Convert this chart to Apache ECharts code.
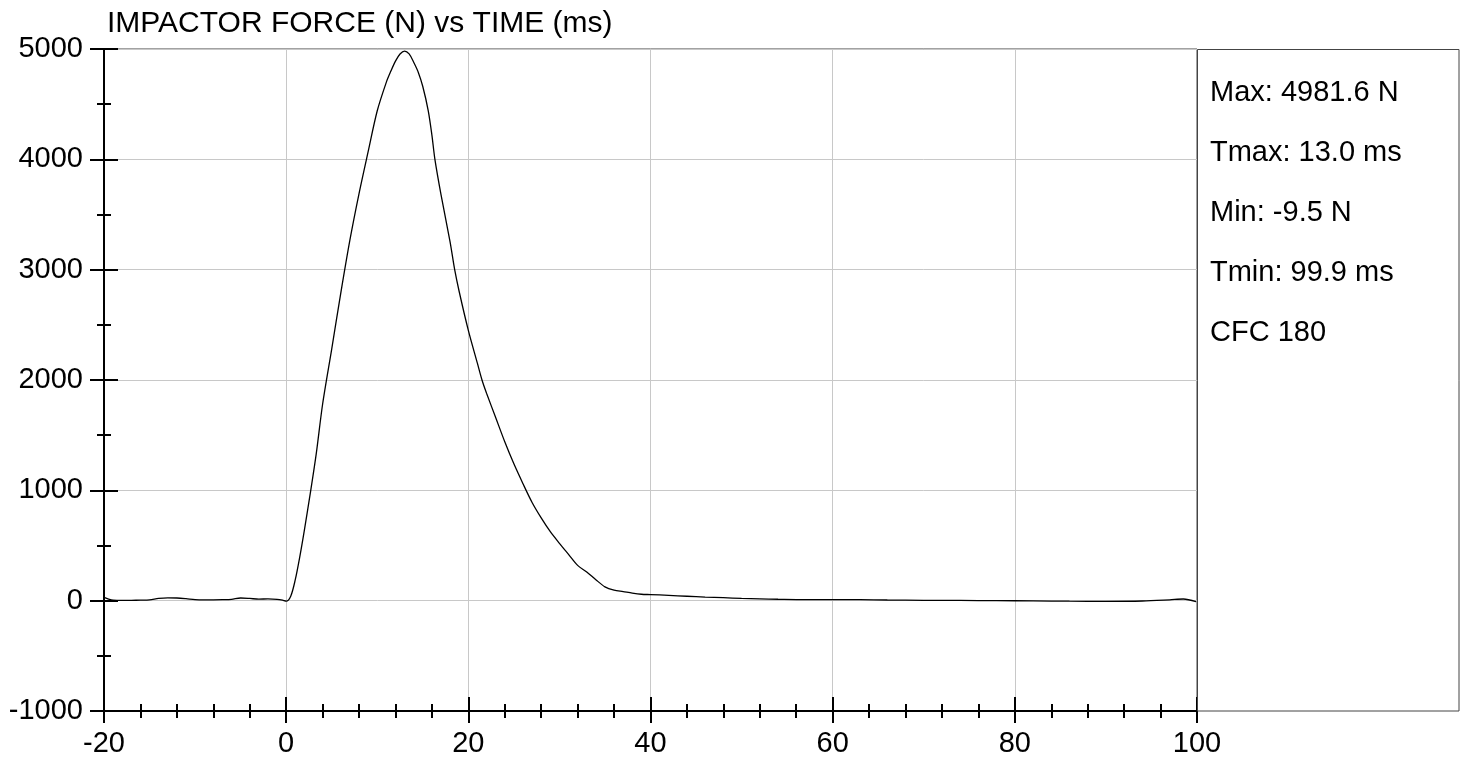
<!DOCTYPE html>
<html>
<head>
<meta charset="utf-8">
<script src="https://cdn.jsdelivr.net/npm/echarts@6/dist/echarts.min.js"></script>
<style>
html,body{margin:0;padding:0;background:#fff;}
#chart{width:1465px;height:761px;}
</style>
</head>
<body>
<div id="chart"></div>
<script>
var titleText = 'IMPACTOR FORCE (N) vs TIME (ms)';
var statsLines = ['Max: 4981.6 N', 'Tmax: 13.0 ms', 'Min: -9.5 N', 'Tmin: 99.9 ms', 'CFC 180'];

var timeMs = [-20,-19.5,-19,-18,-17,-16,-15,-14,-13,-12,-11,-10,-9,-8,-7,-6,-5,-4,-3,-2,-1,-0.4,0,
  0.5,1,1.5,2,2.7,3.3,4,5,6,7,8,9,10,11,11.5,12,12.5,13,13.5,14,14.5,15,15.6,16,16.33,17,18,18.5,19,20,
  21,21.5,22,23,24,25,26,27,28,29,30,31,32,33,34,35,36,37,38,39,40,42,44,46,48,50,52,54,57,60,63,66,70,
  74,78,82,86,90,94,97,98.5,99.9];
var forceN = [30,15,5,2,3,5,8,20,25,24,18,10,8,8,9,12,24,20,14,16,12,4,-5,
  40,190,400,640,1000,1330,1780,2280,2790,3270,3690,4070,4440,4700,4800,4890,4955,4981.6,4955,4880,4790,4660,4440,4220,4000,3680,3250,3000,2800,2450,
  2150,2000,1880,1660,1440,1240,1060,890,750,625,520,420,320,260,190,125,95,82,68,58,55,48,40,33,27,20,16,13,10,10,9,6,3,
  2,0,-2,-5,-6,-3,8,15,-9.5];

var xMin = -20, xMax = 100, xStep = 20;
var yMin = -1000, yMax = 5000, yStep = 1000;

var seriesData = timeMs.map(function (t, i) { return [t, forceN[i]]; });

var FONT = '"Liberation Sans", Arial, sans-serif';
var chart = echarts.init(document.getElementById('chart'), null, {renderer: 'canvas'});

function plain(v) { return String(v); }

function xAx(inside, labels) {
  return {
    type: 'value', min: xMin, max: xMax, interval: xStep, position: 'bottom',
    axisLine: {show: labels, onZero: false, lineStyle: {color: '#000', width: 2}},
    axisTick: {show: true, inside: inside, length: inside ? 14 : 12, lineStyle: {color: '#000', width: 2}},
    minorTick: {show: true, splitNumber: 5, length: 7, lineStyle: {color: '#000', width: 2}},
    axisLabel: {show: labels, margin: 18, color: '#000', fontSize: 29, fontFamily: FONT, formatter: plain},
    splitLine: {show: labels, lineStyle: {color: '#c8c8c8', width: 1}},
    minorSplitLine: {show: false}
  };
}
function yAx(inside, labels) {
  return {
    type: 'value', min: yMin, max: yMax, interval: yStep, position: 'left',
    axisLine: {show: labels, onZero: false, lineStyle: {color: '#000', width: 2}},
    axisTick: {show: true, inside: inside, length: 14, lineStyle: {color: '#000', width: 2}},
    minorTick: {show: true, splitNumber: 2, length: 7, lineStyle: {color: '#000', width: 2}},
    axisLabel: {show: labels, margin: 21, color: '#000', fontSize: 29, fontFamily: FONT, formatter: plain},
    splitLine: {show: labels, lineStyle: {color: '#c8c8c8', width: 1}},
    minorSplitLine: {show: false}
  };
}

var statGraphics = statsLines.map(function (s, i) {
  return {
    type: 'text', left: 1210, top: 92 + i * 60 - 14, z: 10,
    style: {text: s, fontSize: 29, fontFamily: FONT, fill: '#000'}
  };
});

chart.setOption({
  animation: false,
  backgroundColor: '#fff',
  grid: {left: 104, right: 268, top: 49, bottom: 50, show: true, borderColor: '#444', borderWidth: 1, containLabel: false},
  xAxis: [xAx(false, true), xAx(true, false)],
  yAxis: [yAx(false, true), yAx(true, false)],
  graphic: [
    {type: 'text', left: 107, top: 9, style: {text: titleText, fontSize: 30, fontFamily: FONT, fill: '#000'}},
    {type: 'rect', shape: {x: 1197.5, y: 49.5, width: 261.5, height: 661.5}, style: {fill: 'none', stroke: '#444', lineWidth: 1}, z: 5}
  ].concat(statGraphics),
  series: [{
    type: 'line', xAxisIndex: 0, yAxisIndex: 0, data: seriesData,
    showSymbol: false, smooth: 0.3, clip: true,
    lineStyle: {color: '#000', width: 1.3}
  }]
});
</script>
</body>
</html>
